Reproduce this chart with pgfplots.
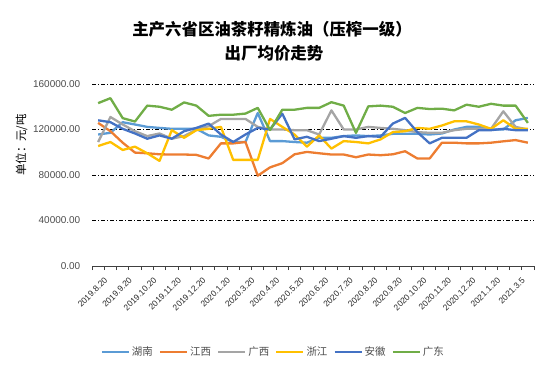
\documentclass[border=0pt]{standalone}
\usepackage{pgfplots}
\usepackage{pgfplotstable}
\pgfplotsset{compat=1.18}
\usepackage{fontspec}
\setmainfont{Liberation Sans}
\newfontfamily\cjk{Noto Sans CJK SC}
\definecolor{chn}{HTML}{5B9BD5}
\definecolor{cjx}{HTML}{ED7D31}
\definecolor{cgx}{HTML}{A5A5A5}
\definecolor{czj}{HTML}{FFC000}
\definecolor{cah}{HTML}{4472C4}
\definecolor{cgd}{HTML}{70AD47}
\pgfplotstableread{
x hn jx gx zj ah gd
0 115600 125800 109000 105500 128100 143200
1 117100 118500 131000 109000 126400 147500
2 126400 108400 124400 102000 120600 130000
3 124400 99700 118500 104900 116500 127000
4 122300 99100 114200 99100 111900 141000
5 121400 98200 116500 92400 114800 140000
6 120600 98000 111900 119400 111900 137400
7 120600 98000 114200 112700 118500 143800
8 120600 97700 120000 119400 121400 141000
9 114800 94500 122900 120600 125200 132000
10 113600 107800 129300 122300 115600 133000
11 109000 107800 129300 93300 109000 133000
12 109000 109000 129300 93300 115600 134000
13 134500 79400 122300 93300 121400 139000
14 109800 86700 120000 129300 120000 119500
15 109800 90400 120000 122300 133900 137400
16 109000 98200 119400 115600 111300 137400
17 108400 100300 119400 104900 113600 139000
18 112700 99100 115600 114800 109800 139000
19 112700 98000 136800 103200 111900 144000
20 114200 98000 120000 109800 114200 141000
21 114800 95600 120000 109000 112700 117000
22 114200 98000 122300 107800 114200 140300
23 114800 97400 121400 111300 113600 141000
24 116200 98200 120600 117700 125200 140000
25 116200 100900 119400 118500 130200 134500
26 116200 94500 117700 121400 117700 139000
27 115600 94500 117100 120600 107800 138000
28 116500 108400 117100 123500 112700 138300
29 120000 108400 119400 127200 112700 136800
30 122300 107800 120600 127200 112700 141800
31 122300 107800 120600 124400 119400 140000
32 120000 108400 120600 120600 119400 142600
33 120000 109600 136000 128100 120600 141000
34 128100 110700 122300 120600 119400 141000
35 130200 108400 120000 120600 119400 125800
}\data
\begin{document}
\begin{tikzpicture}[x=1bp,y=1bp]
\path[use as bounding box] (0,0) rectangle (550,373);
\begin{axis}[
  at={(92bp,107bp)}, anchor=south west,
  scale only axis, width=442bp, height=182bp,
  xmin=-0.5, xmax=35.5, ymin=0, ymax=160000,
  axis x line*=bottom, axis y line*=left,
  y axis line style={draw=none},
  x axis line style={black!75, line width=0.8bp},
  ytick={0,40000,80000,120000,160000},
  ymajorgrids,
  grid style={black, line width=0.6bp, dash pattern=on 4bp off 2bp on 1bp off 2bp},
  major y tick style={draw=none},
  /pgf/number format/assume math mode=true,
  yticklabel={\pgfmathprintnumber[fixed,fixed zerofill,precision=2,1000 sep={}]{\tick}},
  scaled y ticks=false,
  yticklabel style={font=\fontsize{10}{12}\selectfont, text=black!70, xshift=-4bp},
  xtick={0,2,...,34},
  xticklabels={2019.8.20,2019.9.20,2019.10.20,2019.11.20,2019.12.20,2020.1.20,2020.3.20,2020.4.20,2020.5.20,2020.6.20,2020.7.20,2020.8.20,2020.9.20,2020.10.20,2020.11.20,2020.12.20,2021.1.20,2021.3.5},
  major x tick style={draw=none},
  minor xtick={-0.5,0.5,...,35.5},
  minor tick length=4bp,
  tick align=outside,
  minor x tick style={black!75, line width=0.8bp},
  xticklabel style={rotate=45, anchor=north east, font=\fontsize{8.5}{10}\selectfont, text=black!85, inner sep=0.5bp, yshift=-8bp},
  legend columns=6,
  legend style={draw=none, fill=none, at={(0.41,-0.473)}, anchor=center,
    font=\cjk\fontsize{10.5}{12}\selectfont, text=black!70,
    /tikz/every even column/.append style={column sep=4bp}},
  legend image code/.code={\draw[#1] (0bp,0bp) -- (27bp,0bp);},
  every axis plot/.append style={line width=2.3bp, mark=none, line join=round},
]
\addplot[chn] table[x=x,y=hn]{\data};
\addplot[cjx] table[x=x,y=jx]{\data};
\addplot[cgx] table[x=x,y=gx]{\data};
\addplot[czj] table[x=x,y=zj]{\data};
\addplot[cah] table[x=x,y=ah]{\data};
\addplot[cgd] table[x=x,y=gd]{\data};
\legend{湖南,江西,广西,浙江,安徽,广东}
\end{axis}
\node[font=\cjk\bfseries\fontsize{16.5}{20}\selectfont] at (272,344) {主产六省区油茶籽精炼油（压榨一级）};
\node[font=\cjk\bfseries\fontsize{16.5}{20}\selectfont] at (274,320) {出厂均价走势};
\node[rotate=90, font=\cjk\fontsize{11.5}{14}\selectfont] at (21.5,228) {单位：元/吨};
\end{tikzpicture}
\end{document}
